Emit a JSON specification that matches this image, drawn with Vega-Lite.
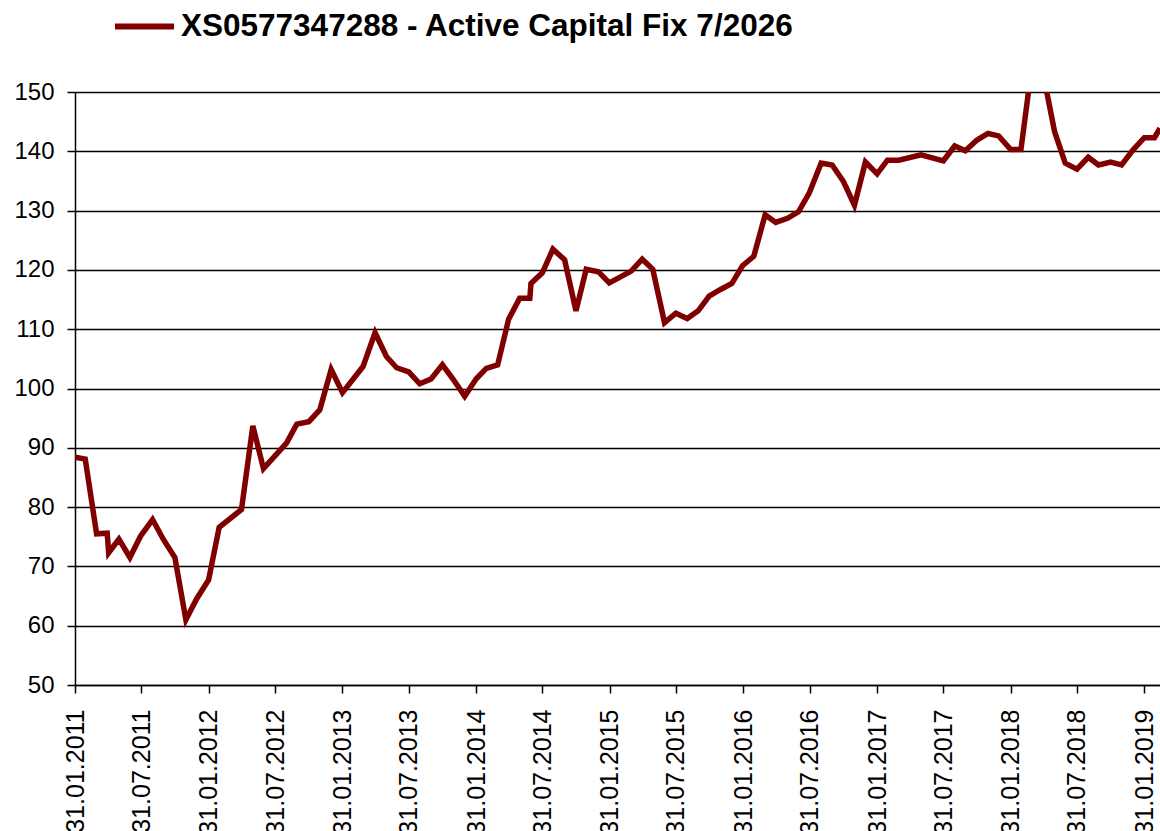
{
  "$schema": "https://vega.github.io/schema/vega-lite/v6.json",
  "width": 1085,
  "height": 593,
  "autosize": {"type": "none"},
  "padding": {"left": 75, "top": 92, "right": 0, "bottom": 146},
  "background": "white",
  "config": {"view": {"stroke": null}, "font": "Liberation Sans"},
  "data": {
    "values": [
      {"date": "2011-01-31", "value": 88.4},
      {"date": "2011-02-28", "value": 88.1},
      {"date": "2011-03-31", "value": 75.5},
      {"date": "2011-04-29", "value": 75.6},
      {"date": "2011-05-03", "value": 72.3},
      {"date": "2011-05-31", "value": 74.6},
      {"date": "2011-06-30", "value": 71.5},
      {"date": "2011-07-29", "value": 75.1},
      {"date": "2011-08-31", "value": 77.9},
      {"date": "2011-09-30", "value": 74.5},
      {"date": "2011-10-31", "value": 71.5},
      {"date": "2011-11-30", "value": 61.0},
      {"date": "2011-12-30", "value": 64.6},
      {"date": "2012-01-31", "value": 67.7},
      {"date": "2012-02-29", "value": 76.6},
      {"date": "2012-04-30", "value": 79.6},
      {"date": "2012-05-31", "value": 93.7},
      {"date": "2012-06-29", "value": 86.5},
      {"date": "2012-08-31", "value": 90.8},
      {"date": "2012-09-28", "value": 94.0},
      {"date": "2012-10-31", "value": 94.4},
      {"date": "2012-11-30", "value": 96.4},
      {"date": "2012-12-31", "value": 103.2},
      {"date": "2013-01-31", "value": 99.3},
      {"date": "2013-03-28", "value": 103.7},
      {"date": "2013-04-30", "value": 109.4},
      {"date": "2013-05-31", "value": 105.4},
      {"date": "2013-06-28", "value": 103.5},
      {"date": "2013-07-31", "value": 102.8},
      {"date": "2013-08-30", "value": 100.8},
      {"date": "2013-09-30", "value": 101.6},
      {"date": "2013-10-31", "value": 104.0},
      {"date": "2013-11-29", "value": 101.6},
      {"date": "2013-12-31", "value": 98.7},
      {"date": "2014-01-31", "value": 101.6},
      {"date": "2014-02-28", "value": 103.4},
      {"date": "2014-03-31", "value": 104.0},
      {"date": "2014-04-30", "value": 111.7},
      {"date": "2014-05-30", "value": 115.2},
      {"date": "2014-06-27", "value": 115.2},
      {"date": "2014-06-30", "value": 117.7},
      {"date": "2014-07-31", "value": 119.5},
      {"date": "2014-08-29", "value": 123.5},
      {"date": "2014-09-30", "value": 121.7},
      {"date": "2014-10-31", "value": 113.1},
      {"date": "2014-11-28", "value": 120.1},
      {"date": "2014-12-31", "value": 119.7},
      {"date": "2015-01-30", "value": 117.8},
      {"date": "2015-03-31", "value": 119.8},
      {"date": "2015-04-30", "value": 121.8},
      {"date": "2015-05-29", "value": 120.1},
      {"date": "2015-06-30", "value": 111.1},
      {"date": "2015-07-31", "value": 112.7},
      {"date": "2015-08-31", "value": 111.8},
      {"date": "2015-09-30", "value": 113.1},
      {"date": "2015-10-30", "value": 115.6},
      {"date": "2015-11-30", "value": 116.7},
      {"date": "2015-12-31", "value": 117.7},
      {"date": "2016-01-29", "value": 120.7},
      {"date": "2016-02-29", "value": 122.3},
      {"date": "2016-03-31", "value": 129.3},
      {"date": "2016-04-29", "value": 128.0},
      {"date": "2016-05-31", "value": 128.7},
      {"date": "2016-06-30", "value": 129.8},
      {"date": "2016-07-29", "value": 132.9},
      {"date": "2016-08-31", "value": 138.0},
      {"date": "2016-09-30", "value": 137.7},
      {"date": "2016-10-31", "value": 134.9},
      {"date": "2016-11-30", "value": 130.9},
      {"date": "2016-12-30", "value": 138.2},
      {"date": "2017-01-31", "value": 136.2},
      {"date": "2017-02-28", "value": 138.5},
      {"date": "2017-03-31", "value": 138.5},
      {"date": "2017-05-31", "value": 139.4},
      {"date": "2017-07-31", "value": 138.4},
      {"date": "2017-08-31", "value": 140.9},
      {"date": "2017-09-29", "value": 140.1},
      {"date": "2017-10-31", "value": 141.9},
      {"date": "2017-11-30", "value": 143.0},
      {"date": "2017-12-29", "value": 142.6},
      {"date": "2018-01-31", "value": 140.3},
      {"date": "2018-02-28", "value": 140.3},
      {"date": "2018-03-29", "value": 154.0},
      {"date": "2018-04-30", "value": 153.0},
      {"date": "2018-05-31", "value": 143.3},
      {"date": "2018-06-29", "value": 138.0},
      {"date": "2018-07-31", "value": 137.0},
      {"date": "2018-08-31", "value": 139.0},
      {"date": "2018-09-28", "value": 137.7},
      {"date": "2018-10-31", "value": 138.2},
      {"date": "2018-11-30", "value": 137.7},
      {"date": "2018-12-31", "value": 140.2},
      {"date": "2019-01-31", "value": 142.3},
      {"date": "2019-02-28", "value": 142.3},
      {"date": "2019-03-15", "value": 143.9}
    ]
  },
  "mark": {"type": "line", "strokeWidth": 5.5, "clip": true},
  "encoding": {
    "x": {
      "field": "date",
      "type": "temporal",
      "scale": {
        "type": "utc",
        "domain": [
          {"year": 2011, "month": 1, "date": 31, "utc": true},
          {"year": 2019, "month": 3, "date": 15, "utc": true}
        ]
      },
      "axis": {
        "title": null,
        "values": [
          {"year": 2011, "month": 1, "date": 31, "utc": true},
          {"year": 2011, "month": 7, "date": 31, "utc": true},
          {"year": 2012, "month": 1, "date": 31, "utc": true},
          {"year": 2012, "month": 7, "date": 31, "utc": true},
          {"year": 2013, "month": 1, "date": 31, "utc": true},
          {"year": 2013, "month": 7, "date": 31, "utc": true},
          {"year": 2014, "month": 1, "date": 31, "utc": true},
          {"year": 2014, "month": 7, "date": 31, "utc": true},
          {"year": 2015, "month": 1, "date": 31, "utc": true},
          {"year": 2015, "month": 7, "date": 31, "utc": true},
          {"year": 2016, "month": 1, "date": 31, "utc": true},
          {"year": 2016, "month": 7, "date": 31, "utc": true},
          {"year": 2017, "month": 1, "date": 31, "utc": true},
          {"year": 2017, "month": 7, "date": 31, "utc": true},
          {"year": 2018, "month": 1, "date": 31, "utc": true},
          {"year": 2018, "month": 7, "date": 31, "utc": true},
          {"year": 2019, "month": 1, "date": 31, "utc": true}
        ],
        "format": "%d.%m.%Y",
        "labelAngle": 270,
        "labelFontSize": 25,
        "labelColor": "black",
        "labelPadding": 16,
        "labelOverlap": false,
        "labelFlush": false,
        "labelBound": false,
        "tickSize": 8,
        "tickColor": "black",
        "tickWidth": 1.5,
        "domainColor": "black",
        "domainWidth": 1.5,
        "grid": false
      }
    },
    "y": {
      "field": "value",
      "type": "quantitative",
      "scale": {"domain": [50, 150], "nice": false},
      "axis": {
        "title": null,
        "values": [50, 60, 70, 80, 90, 100, 110, 120, 130, 140, 150],
        "labelFontSize": 24,
        "labelColor": "black",
        "labelPadding": 13,
        "tickSize": 8,
        "tickColor": "black",
        "tickWidth": 1.5,
        "domainColor": "black",
        "domainWidth": 1.5,
        "grid": true,
        "gridColor": "black",
        "gridWidth": 1.5,
        "gridOpacity": 1
      }
    },
    "color": {
      "datum": "XS0577347288 - Active Capital Fix 7/2026",
      "type": "nominal",
      "scale": {"range": ["#800000"]},
      "legend": {
        "orient": "none",
        "legendX": 37,
        "legendY": -98,
        "title": null,
        "symbolType": "stroke",
        "symbolSize": 3481,
        "symbolStrokeWidth": 6,
        "labelFontSize": 31.5,
        "labelFontWeight": "bold",
        "labelColor": "black",
        "labelOffset": 4,
        "labelLimit": 1000
      }
    }
  }
}
